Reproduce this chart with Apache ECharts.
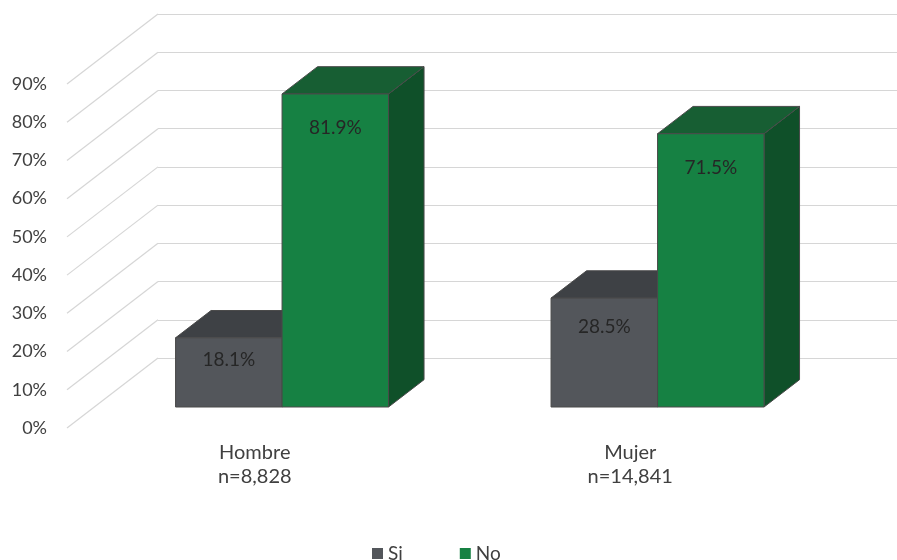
<!DOCTYPE html>
<html><head><meta charset="utf-8">
<script src="https://cdn.jsdelivr.net/npm/echarts@6/dist/echarts.min.js"></script>
<style>html,body{margin:0;padding:0;background:#fff}#c{width:897px;height:560px}</style>
</head><body><div id="c"></div>
<script>
const categories = ['Hombre\nn=8,828', 'Mujer\nn=14,841'];
const siValues = [18.1, 28.5];
const noValues = [81.9, 71.5];
const yTicks = [0, 10, 20, 30, 40, 50, 60, 70, 80, 90];
const seriesNames = ['Si', 'No'];

const FONT = 'Lato, "Open Sans", sans-serif';
const DEPTH_X = 91, DEPTH_Y = -70;   // full floor depth
const F0 = 0.3, F1 = 0.69;            // bar depth range
const BAR_FRAC = 0.2836;              // bar width relative to category band
const colors = {
  Si: {front: '#53565B', top: '#3E4145', side: '#3A3D40'},
  No: {front: '#168143', top: '#175E33', side: '#0F5029'}
};

function barRender(sIdx) {
  return function (params, api) {
    const cat = api.value(0), v = api.value(1);
    const base = api.coord([cat, 0]);
    const topP = api.coord([cat, v]);
    const band = api.size([1, 0])[0];
    const w = band * BAR_FRAC;
    const x0 = (sIdx === 0 ? base[0] - w : base[0]) + DEPTH_X * F0;
    const by = base[1] + DEPTH_Y * F0;
    const ty = topP[1] + DEPTH_Y * F0;
    const bx = DEPTH_X * (F1 - F0), bdy = DEPTH_Y * (F1 - F0);
    const c = colors[seriesNames[sIdx]];
    const stroke = {stroke: '#4A4A4A', lineWidth: 1};
    const h = by - ty;
    const labOff = Math.min(34, 12 + 0.15 * h);
    return {
      type: 'group',
      children: [
        {type: 'polygon', shape: {points: [[x0 + w, ty], [x0 + w + bx, ty + bdy], [x0 + w + bx, by + bdy], [x0 + w, by]]},
          style: Object.assign({fill: c.side}, stroke)},
        {type: 'polygon', shape: {points: [[x0, ty], [x0 + w, ty], [x0 + w + bx, ty + bdy], [x0 + bx, ty + bdy]]},
          style: Object.assign({fill: c.top}, stroke)},
        {type: 'rect', shape: {x: x0, y: ty, width: w, height: h},
          style: Object.assign({fill: c.front}, stroke)},
        {type: 'text', x: x0 + w / 2, y: ty + labOff,
          style: {text: v.toFixed(1) + '%', fill: '#262626', font: '19px ' + FONT, align: 'center', verticalAlign: 'middle'}}
      ]
    };
  };
}

const chart = echarts.init(document.getElementById('c'), null, {renderer: 'canvas'});
chart.setOption({
  animation: false,
  backgroundColor: '#ffffff',
  textStyle: {fontFamily: FONT},
  legend: {
    data: seriesNames, left: 367, top: 539, icon: 'rect', itemWidth: 11, itemHeight: 11, itemGap: 57,
    textStyle: {fontSize: 19, color: '#404040', fontFamily: FONT}
  },
  grid: [
    {left: 67, right: 79, top: 84, bottom: 132},
    {left: 158, right: 0, top: 14, bottom: 202}
  ],
  xAxis: [
    {type: 'category', gridIndex: 0, data: categories, axisLine: {show: false}, axisTick: {show: false},
      axisLabel: {margin: 13, fontSize: 20, lineHeight: 24, color: '#404040', fontFamily: FONT}},
    {type: 'value', gridIndex: 1, show: false, min: 0, max: 1}
  ],
  yAxis: [
    {type: 'value', gridIndex: 0, min: 0, max: 90, interval: 10, splitLine: {show: false},
      axisLine: {show: false}, axisTick: {show: false},
      axisLabel: {formatter: '{value}%', margin: 20, fontSize: 18, color: '#404040', fontFamily: FONT}},
    {type: 'value', gridIndex: 1, min: 0, max: 90, interval: 10, axisLabel: {show: false},
      axisLine: {show: false}, axisTick: {show: false},
      splitLine: {show: true, lineStyle: {color: '#D6D6D6', width: 1.2}}}
  ],
  series: [
    {
      type: 'custom', name: 'walls', xAxisIndex: 0, yAxisIndex: 0, z: 1, silent: true,
      data: yTicks.map(t => [0, t]),
      renderItem: function (params, api) {
        const p = api.coord([0, api.value(1)]);
        const x = params.coordSys.x;
        return {type: 'line', shape: {x1: x, y1: p[1], x2: x + DEPTH_X, y2: p[1] + DEPTH_Y},
          style: {stroke: '#D6D6D6', lineWidth: 1.2}};
      }
    },
    {
      type: 'custom', name: 'Si', xAxisIndex: 0, yAxisIndex: 0, z: 3,
      itemStyle: {color: colors.Si.front},
      data: siValues.map((v, i) => [i, v]), encode: {x: 0, y: 1},
      renderItem: barRender(0)
    },
    {
      type: 'custom', name: 'No', xAxisIndex: 0, yAxisIndex: 0, z: 4,
      itemStyle: {color: colors.No.front},
      data: noValues.map((v, i) => [i, v]), encode: {x: 0, y: 1},
      renderItem: barRender(1)
    }
  ]
});
</script></body></html>
